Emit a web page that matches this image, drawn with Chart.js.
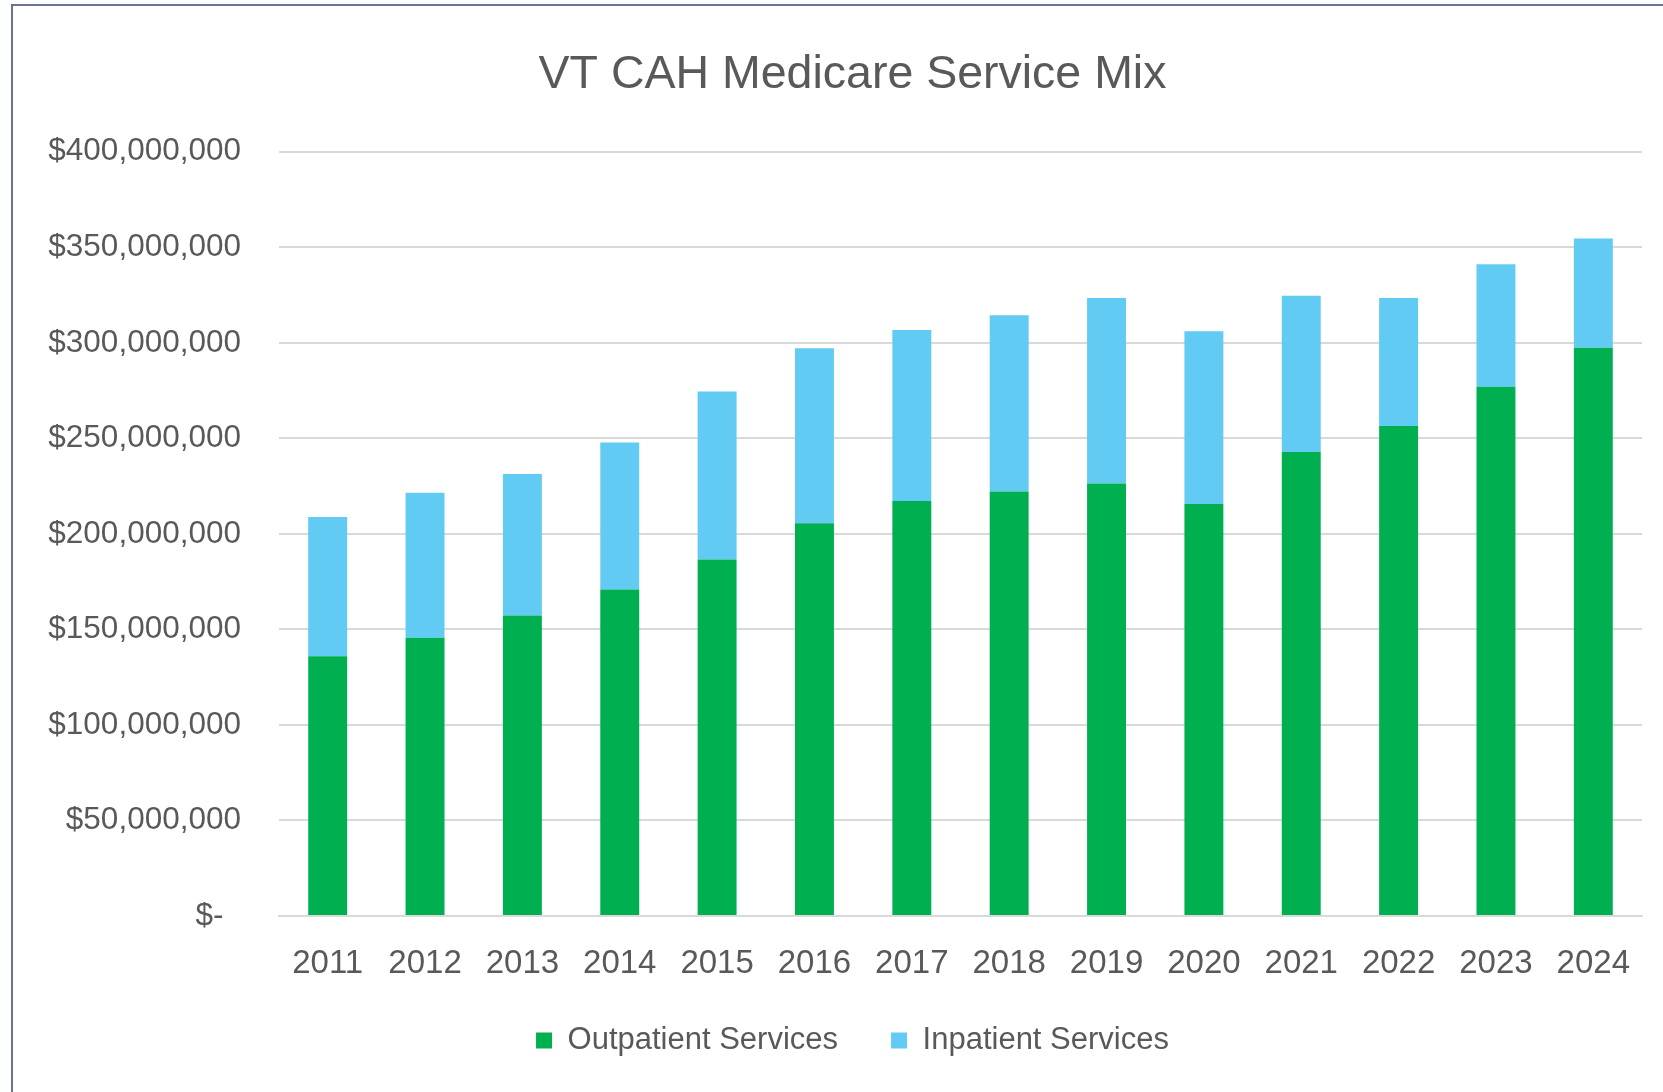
<!DOCTYPE html>
<html>
<head>
<meta charset="utf-8">
<script src="https://cdn.jsdelivr.net/npm/chart.js@4.4.1/dist/chart.umd.min.js"></script>
<style>
  html, body { margin: 0; padding: 0; background: #fff; overflow: hidden; width: 1663px; height: 1092px; }
  #frame { position: absolute; left: 11px; top: 4px; width: 1700px; height: 1120px; border: 2px solid #6b7394; }
  #frame canvas { position: absolute; left: 0; top: 0; }
</style>
</head>
<body>
<div id="frame"><canvas id="chart" width="1672" height="1086"></canvas></div>
<script>
// VT CAH Medicare service mix, dollars per year
var years = ["2011", "2012", "2013", "2014", "2015", "2016", "2017", "2018", "2019", "2020", "2021", "2022", "2023", "2024"];
var outpatient = [135900000, 145600000, 157300000, 170900000, 186600000, 205600000, 217200000, 222200000, 226400000, 215600000, 242900000, 256500000, 277000000, 297400000];
var inpatient = [73000000, 75900000, 74000000, 77000000, 87900000, 91600000, 89500000, 92200000, 97100000, 90500000, 81700000, 67000000, 64100000, 57200000];
var yTicks = [0, 50000000, 100000000, 150000000, 200000000, 250000000, 300000000, 350000000, 400000000];

var fontFamily = "'Liberation Sans', Arial, sans-serif";
var textColor = "#595959";
var gridColor = "#d9d9d9";

function money(v) {
    if (v === 0) return "$-  ";
    return "$" + v.toLocaleString("en-US");
}

// axis boxes are sized by hand below, so let the tick labels spill out of them
function noLabelClip(axis) {
    axis._computeLabelArea = function () { return undefined; };
}

function createChart() {
    var ctx = document.querySelector("#chart").getContext("2d");

    new Chart(ctx, {
        type: "bar",
        data: {
            labels: years,
            datasets: [
                {
                    label: "Outpatient Services",
                    data: outpatient,
                    backgroundColor: "#00B050",
                    categoryPercentage: 1,
                    barPercentage: 0.4
                },
                {
                    label: "Inpatient Services",
                    data: inpatient,
                    backgroundColor: "#61CBF3",
                    categoryPercentage: 1,
                    barPercentage: 0.4
                }
            ]
        },
        options: {
            responsive: false,
            animation: false,
            devicePixelRatio: 1,
            layout: { padding: { left: 50, right: 43, top: 0, bottom: 26 } },
            plugins: {
                title: {
                    display: true,
                    text: "VT CAH Medicare Service Mix",
                    color: textColor,
                    font: { family: fontFamily, size: 46.5, weight: "normal" },
                    padding: { top: 41, bottom: 49 }
                },
                legend: {
                    position: "bottom",
                    labels: {
                        boxWidth: 16,
                        boxHeight: 16,
                        padding: 53,
                        color: textColor,
                        font: { family: fontFamily, size: 31 }
                    }
                },
                tooltip: { enabled: false }
            },
            scales: {
                x: {
                    stacked: true,
                    afterFit: function (axis) { axis.height = 56; noLabelClip(axis); },
                    grid: { display: false, drawTicks: false },
                    border: { display: true, color: gridColor, width: 2 },
                    ticks: {
                        color: textColor,
                        padding: 28,
                        font: { family: fontFamily, size: 33 }
                    }
                },
                y: {
                    stacked: true,
                    min: 0,
                    max: 400000000,
                    afterBuildTicks: function (axis) {
                        axis.ticks = yTicks.map(function (v) { return { value: v }; });
                    },
                    afterFit: function (axis) { axis.width = 216; noLabelClip(axis); },
                    grid: { color: gridColor, lineWidth: 2, drawTicks: false },
                    border: { display: false },
                    ticks: {
                        color: textColor,
                        padding: 38,
                        font: { family: fontFamily, size: 31.5 },
                        callback: function (v) { return money(v); }
                    }
                }
            }
        }
    });
}

createChart();
</script>
</body>
</html>
